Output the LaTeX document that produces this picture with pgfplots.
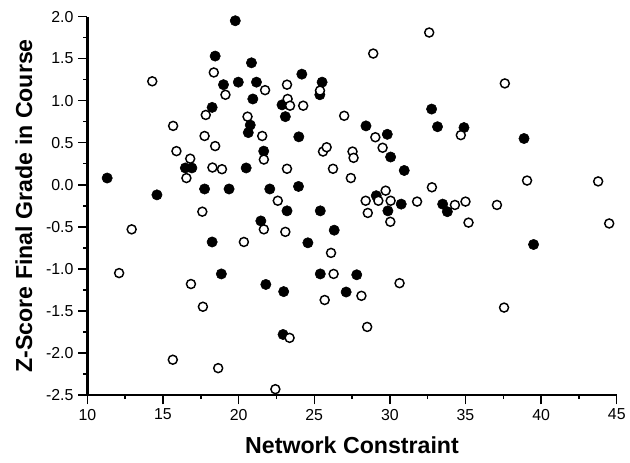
\documentclass[border=0pt]{standalone}
\usepackage{fontspec}
\setmainfont{Liberation Sans}
\usepackage{pgfplots}
\pgfplotsset{compat=1.18}

% filled circles
\pgfplotstableread{
x y
19.78 1.95
18.45 1.53
20.85 1.45
19.0 1.19
19.98 1.22
21.18 1.22
20.94 1.02
18.25 0.92
20.77 0.71
20.64 0.62
21.66 0.40
16.48 0.20
16.91 0.20
20.5 0.20
11.31 0.08
14.6 -0.12
17.75 -0.05
19.37 -0.05
21.47 -0.43
18.25 -0.68
18.86 -1.06
21.8 -1.185
24.18 1.315
25.52 1.22
25.37 1.07
22.87 0.95
23.09 0.81
28.42 0.70
29.83 0.60
30.05 0.33
23.98 0.57
32.76 0.90
33.15 0.69
34.9 0.68
38.87 0.55
30.95 0.17
22.06 -0.05
23.96 -0.02
23.2 -0.31
25.4 -0.31
29.1 -0.13
30.75 -0.23
29.87 -0.31
26.32 -0.54
24.58 -0.69
25.4 -1.06
27.81 -1.07
22.98 -1.27
27.11 -1.275
33.49 -0.23
33.8 -0.32
39.5 -0.71
22.94 -1.78
}\filledpts

% open circles
\pgfplotstableread{
x y
18.36 1.335
14.29 1.23
21.75 1.125
19.13 1.07
17.83 0.83
20.59 0.81
21.56 0.58
15.67 0.70
17.75 0.58
18.45 0.46
15.89 0.40
16.8 0.31
16.55 0.08
18.27 0.205
18.9 0.185
21.67 0.30
17.6 -0.32
21.67 -0.53
12.93 -0.53
20.35 -0.68
12.1 -1.05
16.85 -1.18
17.64 -1.45
15.65 -2.08
18.65 -2.18
32.6 1.81
28.9 1.56
23.2 1.19
25.38 1.12
23.24 1.02
23.4 0.94
24.27 0.94
26.98 0.82
29.04 0.565
29.52 0.44
25.58 0.395
25.82 0.446
27.53 0.395
27.6 0.32
37.6 1.205
34.69 0.59
23.2 0.19
26.24 0.19
27.42 0.08
32.78 -0.03
22.59 -0.19
29.72 -0.07
28.4 -0.19
29.24 -0.19
30.05 -0.19
31.8 -0.20
28.54 -0.335
30.03 -0.44
23.09 -0.56
26.11 -0.81
26.28 -1.06
30.64 -1.17
28.12 -1.32
25.69 -1.37
34.3 -0.24
35.0 -0.20
35.2 -0.45
37.08 -0.24
39.07 0.05
43.77 0.04
44.5 -0.46
37.55 -1.46
23.37 -1.82
28.5 -1.69
22.43 -2.43
}\openpts

\begin{document}
\begin{tikzpicture}
\begin{axis}[
    scale only axis,
    width=400pt, height=286pt,
    xmin=10, xmax=45, ymin=-2.5, ymax=2.0,
    xtick={10,15,...,45},
    ytick={-2.5,-2,...,2},
    minor tick num=1,
    axis x line=bottom, axis y line=left,
    x axis line style={-, line width=1.8pt},
    y axis line style={-, line width=1.8pt},
    tick align=outside,
    major tick length=7pt, minor tick length=3pt,
    tick style={black, line width=1.1pt},
    /pgf/number format/assume math mode=true,
    tick label style={font=\fontsize{12}{14}\selectfont},
    yticklabel style={/pgf/number format/.cd, fixed, fixed zerofill, precision=1},
    xlabel={Network Constraint},
    ylabel={Z-Score Final Grade in Course},
    label style={font=\fontsize{17.5}{20}\selectfont\bfseries},
    xlabel style={at={(axis description cs:0.5,0)}, anchor=center, yshift=-38pt},
    ylabel style={at={(axis description cs:0,0.5)}, anchor=center, yshift=48pt},
    clip=false,
]
\addplot[only marks, mark=*, mark size=3.9pt, mark options={fill=black, draw=black}] table {\filledpts};
\addplot[only marks, mark=*, mark size=3.4pt, mark options={fill=white, draw=black, line width=1.1pt}] table {\openpts};
\end{axis}
% white margin as in the reference
\path (-66pt,-51pt) (406.5pt,298.5pt);
\end{tikzpicture}
\end{document}
